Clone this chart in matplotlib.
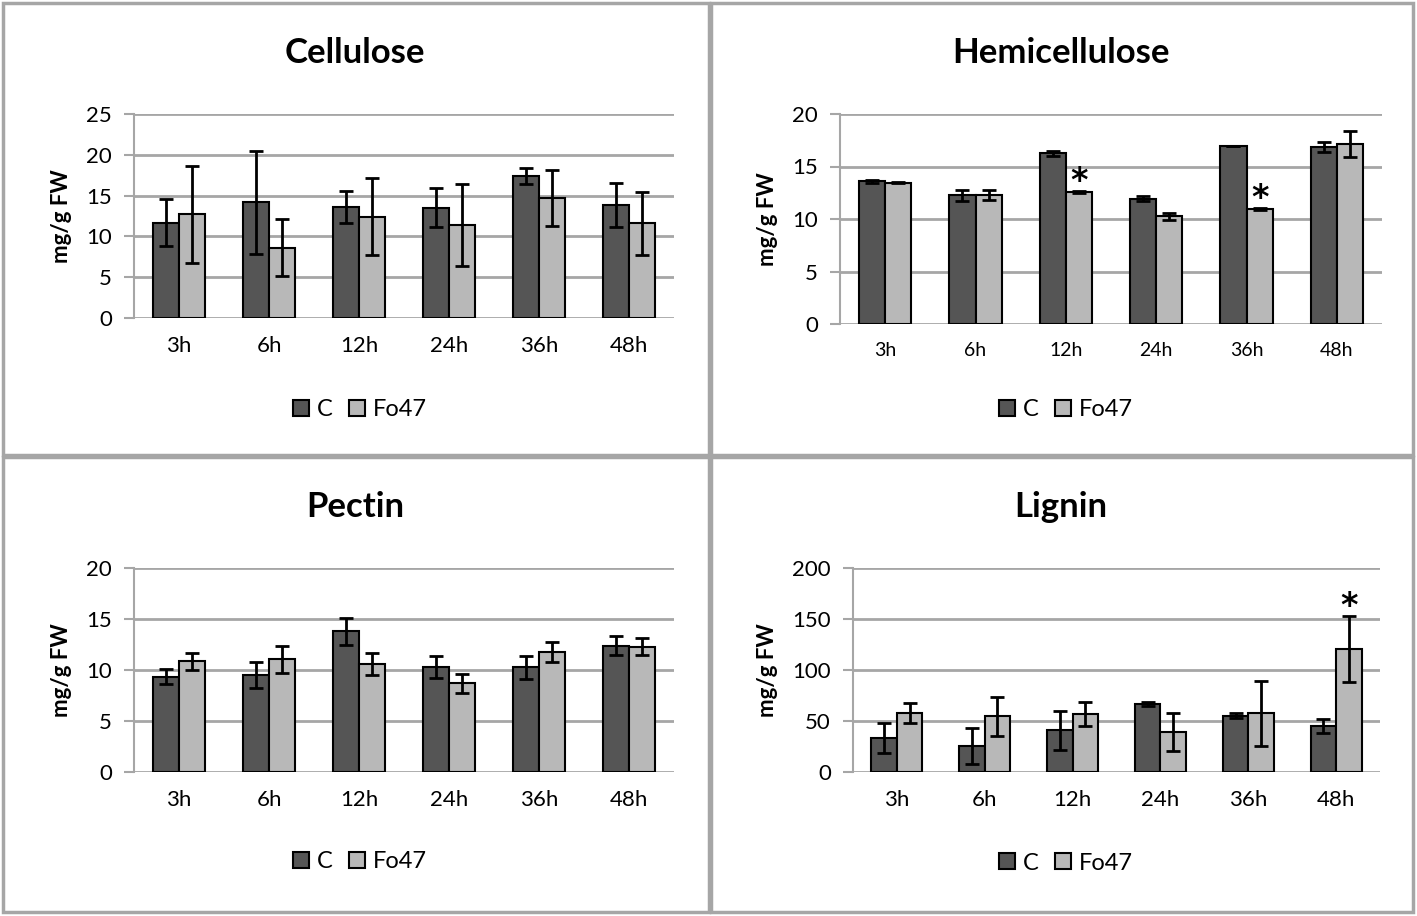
import matplotlib
matplotlib.use("Agg")
import matplotlib.pyplot as plt
from matplotlib.patches import Rectangle

plt.rcParams['font.family'] = ['Lato', 'DejaVu Sans']

times = ['3h', '6h', '12h', '24h', '36h', '48h']

# values (mg/g FW), mean and error
cellulose_c = [11.7, 14.2, 13.6, 13.5, 17.4, 13.8]
cellulose_c_err = [2.9, 6.3, 2.0, 2.4, 1.0, 2.7]
cellulose_fo = [12.7, 8.6, 12.4, 11.4, 14.7, 11.6]
cellulose_fo_err = [5.9, 3.5, 4.7, 5.0, 3.45, 3.85]

hemi_c = [13.6, 12.25, 16.25, 11.95, 17.0, 16.9]
hemi_c_err = [0.15, 0.5, 0.25, 0.27, 0.0, 0.48]
hemi_fo = [13.45, 12.3, 12.53, 10.25, 10.94, 17.15]
hemi_fo_err = [0.05, 0.48, 0.1, 0.3, 0.1, 1.2]
hemi_sig = [False, False, True, False, True, False]

pectin_c = [9.35, 9.5, 13.8, 10.3, 10.25, 12.4]
pectin_c_err = [0.75, 1.25, 1.3, 1.05, 1.1, 0.9]
pectin_fo = [10.85, 11.05, 10.6, 8.7, 11.75, 12.3]
pectin_fo_err = [0.85, 1.3, 1.1, 0.95, 0.95, 0.8]

lignin_c = [33.5, 25.5, 40.8, 67.0, 55.0, 45.4]
lignin_c_err = [15.0, 17.5, 18.8, 2.0, 2.5, 7.0]
lignin_fo = [58.0, 54.6, 57.0, 39.5, 57.5, 120.6]
lignin_fo_err = [10.0, 19.3, 11.6, 18.6, 32.0, 32.0]
lignin_sig = [False, False, False, False, False, True]

dark = '#555555'
light = '#b8b8b8'
grid_gray = '#a6a6a6'

W, H = 1417, 916
fig = plt.figure(figsize=(W / 100, H / 100), dpi=100)

# panel frames, pixel boxes (x0, y0, x1, y1)
for x0, y0, x1, y1 in [(3, 3, 709, 455), (711, 3, 1413, 455),
                       (3, 457, 709, 912), (711, 457, 1413, 912)]:
    fig.patches.append(Rectangle((x0 / W, 1 - y1 / H), (x1 - x0) / W, (y1 - y0) / H,
                                 transform=fig.transFigure, fill=False,
                                 edgecolor=grid_gray, linewidth=2.5))


def panel(box, title, title_xy, ylab_x, c, c_err, fo, fo_err, ymax, ystep,
          legend_xy, xtick_size=16, sig=None):
    x0, y0, x1, y1 = box
    ax = fig.add_axes([x0 / W, 1 - y1 / H, (x1 - x0) / W, (y1 - y0) / H])
    xs = list(range(len(times)))
    w = 0.29
    ekw = dict(elinewidth=2, capthick=2, ecolor='black')
    ax.bar([x - w / 2 for x in xs], c, w, yerr=c_err, color=dark, edgecolor='black',
           linewidth=1.5, capsize=5, error_kw=ekw, label='C', zorder=3)
    ax.bar([x + w / 2 for x in xs], fo, w, yerr=fo_err, color=light, edgecolor='black',
           linewidth=1.5, capsize=5, error_kw=ekw, label='Fo47', zorder=3)
    if sig is not None:
        for i, s in enumerate(sig):
            if s:
                ax.annotate('*', (i + w / 2, fo[i] + fo_err[i]), xytext=(0, 7),
                            textcoords='offset points', ha='center', va='center',
                            fontsize=24, fontweight='bold', fontfamily='DejaVu Sans',
                            zorder=4)
    ax.set_xlim(-0.5, len(times) - 0.5)
    ax.set_ylim(0, ymax)
    ax.set_yticks(range(0, ymax + 1, ystep))
    ax.set_xticks(xs)
    ax.set_xticklabels(times, fontsize=xtick_size)
    ax.tick_params(axis='y', labelsize=16, length=7, width=1.5, color=grid_gray, pad=9)
    ax.tick_params(axis='x', length=0, pad=13)
    ax.yaxis.grid(True, color=grid_gray, linewidth=2)
    ax.set_axisbelow(True)
    for s in ['top', 'right', 'bottom']:
        ax.spines[s].set_visible(False)
    ax.spines['left'].set_color(grid_gray)
    ax.spines['left'].set_linewidth(1.5)
    fig.text(title_xy[0] / W, 1 - title_xy[1] / H, title, ha='center', va='center',
             fontsize=25, fontweight='bold')
    fig.text(ylab_x / W, 1 - (y0 + y1) / 2 / H, 'mg/g FW', ha='center', va='center',
             rotation=90, fontsize=16, fontweight='bold')
    fig.legend(*ax.get_legend_handles_labels(), loc='center',
               bbox_to_anchor=(legend_xy[0] / W, 1 - legend_xy[1] / H),
               ncol=2, frameon=False, fontsize=17, handlelength=0.65,
               handleheight=0.65, handletextpad=0.35, columnspacing=0.7)
    return ax


panel((134, 114, 674, 318), 'Cellulose', (355, 53), 62,
      cellulose_c, cellulose_c_err, cellulose_fo, cellulose_fo_err, 25, 5, (360, 410))
panel((840, 114, 1382, 324), 'Hemicellulose', (1061, 53), 768,
      hemi_c, hemi_c_err, hemi_fo, hemi_fo_err, 20, 5, (1066, 410),
      xtick_size=14, sig=hemi_sig)
panel((134, 568, 674, 772), 'Pectin', (355, 507), 62,
      pectin_c, pectin_c_err, pectin_fo, pectin_fo_err, 20, 5, (360, 862))
panel((853, 568, 1380, 772), 'Lignin', (1061, 507), 768,
      lignin_c, lignin_c_err, lignin_fo, lignin_fo_err, 200, 50, (1066, 863),
      sig=lignin_sig)

fig.savefig('out.png', dpi=100)
